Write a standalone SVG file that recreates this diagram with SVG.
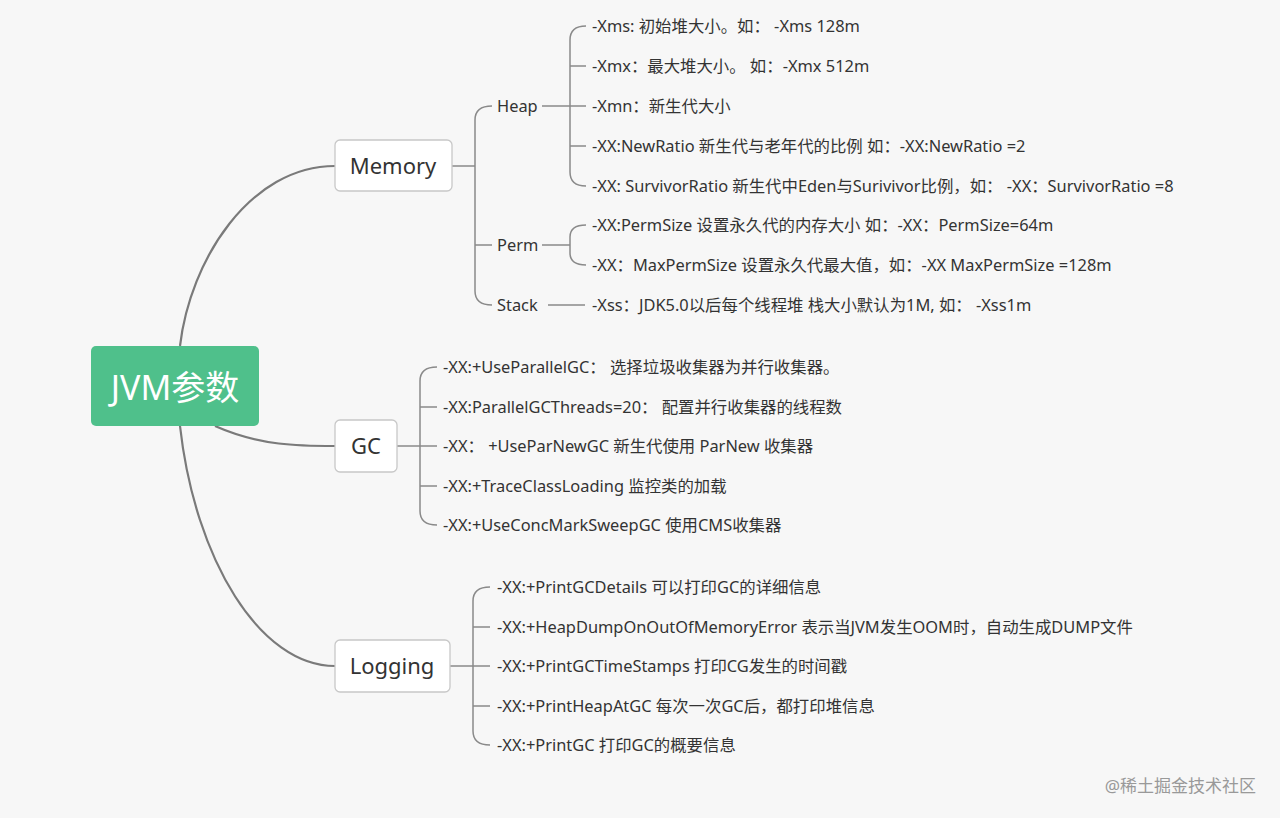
<svg xmlns="http://www.w3.org/2000/svg" width="1280" height="818" viewBox="0 0 1280 818">
<style>
.c{fill:none;stroke:#8a8a8a;stroke-width:1.5}
.m{fill:none;stroke:#7a7a7a;stroke-width:2.2}
.b{fill:#fff;stroke:#c8c8c8;stroke-width:1.3}
text{font-family:"Microsoft YaHei","Noto Sans","Noto Sans CJK SC",sans-serif;fill:#333}
.l{font-size:16.4px}
.n{font-size:22px;text-anchor:middle}
</style>
<rect width="1280" height="818" fill="#f7f7f7"/>
<g id="connectors">
<path class="m" d="M180,346 C190,260 250,166 335,166"/>
<path class="m" d="M215,426 C260,446 300,446 335,446"/>
<path class="m" d="M180,426 C195,560 260,666 335,666"/>
<path class="c" d="M452,166 H475 M492,106 Q475,106 475,120 V291 Q475,305 492,305 M475,245 H492"/>
<path class="c" d="M542,106 H570 M586,26 Q570,26 570,40 V172 Q570,186 586,186 M570,66 Q570,66 586,66 M570,106 H586 M570,146 Q570,146 586,146"/>
<path class="c" d="M542,245 H570 M586,225 Q570,225 570,237 V253 Q570,265 586,265"/>
<path class="c" d="M548,305 H585"/>
<path class="c" d="M397,446 H420 M437,367 Q420,367 420,381 V511 Q420,525 437,525 M420,407 Q420,407 437,407 M420,446 H437 M420,486 Q420,486 437,486"/>
<path class="c" d="M450,666 H473 M490,587 Q473,587 473,601 V731 Q473,745 490,745 M473,627 Q473,627 490,627 M473,666 H490 M473,706 Q473,706 490,706"/>
</g>
<g id="root"><rect x="91" y="346" width="168" height="80" rx="5" fill="#4fc08b"/><text x="175" y="400" font-size="34" text-anchor="middle" style="fill:#fff">JVM参数</text></g>
<g id="memory"><rect class="b" x="335" y="140" width="117" height="51" rx="5"/><text class="n" x="393" y="174">Memory</text></g>
<g id="gc"><rect class="b" x="335" y="420" width="62" height="52" rx="5"/><text class="n" x="366" y="454">GC</text></g>
<g id="logging"><rect class="b" x="335" y="640" width="115" height="52" rx="5"/><text class="n" x="392" y="674">Logging</text></g>
<g id="heap"><text class="l" x="497" y="112">Heap</text></g>
<g id="perm"><text class="l" x="497" y="251">Perm</text></g>
<g id="stack"><text class="l" x="497" y="311">Stack</text></g>
<g id="leaves" class="l">
<text class="l" x="592" y="32">-Xms: 初始堆大小。如：  -Xms 128m</text>
<text class="l" x="592" y="72">-Xmx：最大堆大小。 如：-Xmx 512m</text>
<text class="l" x="592" y="112">-Xmn：新生代大小</text>
<text class="l" x="592" y="152">-XX:NewRatio  新生代与老年代的比例 如：-XX:NewRatio =2</text>
<text class="l" x="592" y="192">-XX: SurvivorRatio 新生代中Eden与Surivivor比例，如：  -XX：SurvivorRatio =8</text>
<text class="l" x="592" y="231">-XX:PermSize  设置永久代的内存大小 如：-XX：PermSize=64m</text>
<text class="l" x="592" y="271">-XX：MaxPermSize 设置永久代最大值，如：-XX MaxPermSize =128m</text>
<text class="l" x="592" y="311">-Xss：JDK5.0以后每个线程堆 栈大小默认为1M, 如：  -Xss1m</text>
<text class="l" x="443" y="373">-XX:+UseParallelGC：  选择垃圾收集器为并行收集器。</text>
<text class="l" x="443" y="413">-XX:ParallelGCThreads=20：  配置并行收集器的线程数</text>
<text class="l" x="443" y="452">-XX：  +UseParNewGC 新生代使用 ParNew 收集器</text>
<text class="l" x="443" y="492">-XX:+TraceClassLoading 监控类的加载</text>
<text class="l" x="443" y="531">-XX:+UseConcMarkSweepGC 使用CMS收集器</text>
<text class="l" x="497" y="593">-XX:+PrintGCDetails 可以打印GC的详细信息</text>
<text class="l" x="497" y="633">-XX:+HeapDumpOnOutOfMemoryError 表示当JVM发生OOM时，自动生成DUMP文件</text>
<text class="l" x="497" y="672">-XX:+PrintGCTimeStamps 打印CG发生的时间戳</text>
<text class="l" x="497" y="712">-XX:+PrintHeapAtGC 每次一次GC后，都打印堆信息</text>
<text class="l" x="497" y="751">-XX:+PrintGC 打印GC的概要信息</text>
</g>
<text x="1256" y="792" font-size="17" text-anchor="end" style="fill:#999">@稀土掘金技术社区</text>
</svg>
